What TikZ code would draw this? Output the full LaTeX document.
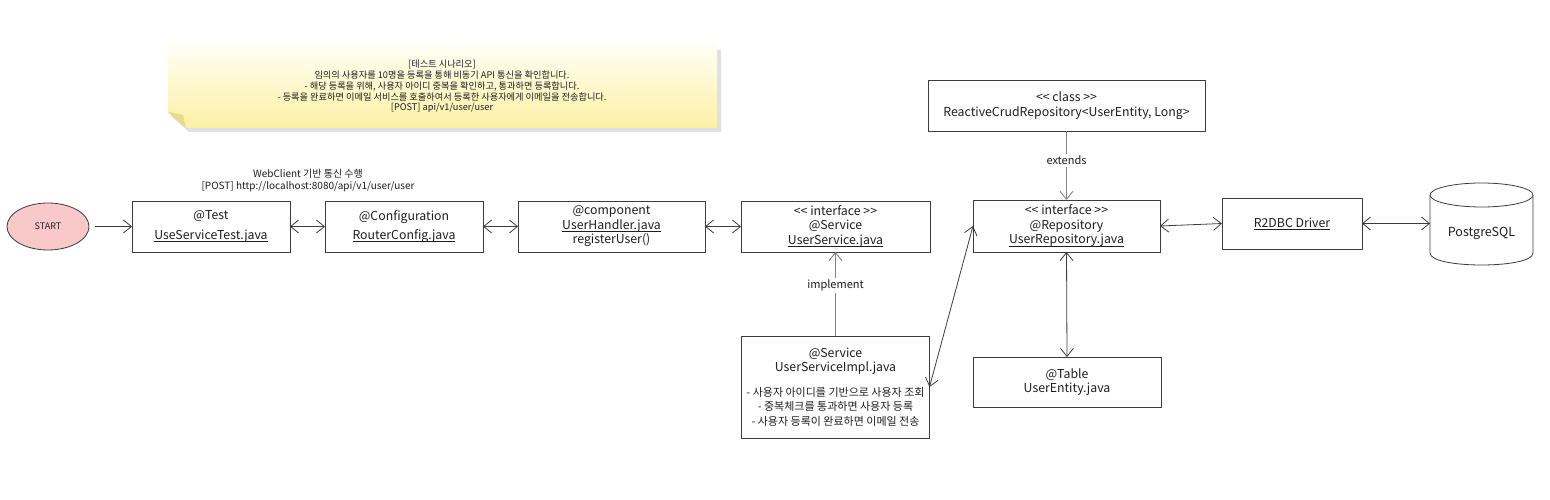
\documentclass[tikz,border=0pt]{standalone}
\usepackage{fontspec}
\setmainfont{Noto Sans CJK KR}
\usetikzlibrary{arrows.meta,shapes.geometric}
\definecolor{ln}{HTML}{3C3C3C}
\definecolor{lg}{HTML}{858585}
\definecolor{txt}{HTML}{1E1E1E}
\definecolor{pinkfill}{HTML}{F9C8C8}
\definecolor{noteA}{HTML}{FFFEF4}
\definecolor{noteB}{HTML}{FBF1A4}
\definecolor{noteF}{HTML}{E8DC8A}
\newcommand\kos{\fontsize{11}{13}\selectfont}
\newcommand\lAng{<\kern0pt<}
\newcommand\rAng{>\kern0pt>}
\newcommand\uln[1]{\setbox0\hbox{#1}\rlap{\rule[-2.2pt]{\wd0}{0.6pt}}\box0}
\begin{document}
\begin{tikzpicture}[x=1pt,y=-1pt,
  >={Straight Barb[length=8pt,width=13pt]},
  box/.style={draw=ln, line width=0.8pt, fill=white, align=center, inner sep=2pt, outer sep=0pt,
              text=txt, font=\fontsize{12.3}{14.5}\selectfont},
  conn/.style={draw=ln, line width=0.8pt},
  gconn/.style={draw=lg, line width=0.9pt},
  lbl/.style={fill=white, inner sep=2pt, text=txt, font=\fontsize{11}{13}\selectfont},
  smalltext/.style={align=center, text=txt, font=\fontsize{10}{12}\selectfont},
  notetext/.style={align=center, text=txt, font=\fontsize{9.2}{10.8}\selectfont}
]
\useasboundingbox (0,0) rectangle (1550,500);
\fill[white] (0,0) rectangle (1550,500);

% note
\fill[black!12] (171,50) -- (721,50) -- (721,132) -- (189,132) -- (171,116) -- cycle;
\shade[top color=noteA, bottom color=noteB] (168,45) -- (717,45) -- (717,128) -- (186,128) -- (168,112) -- cycle;
\fill[noteF] (168,112) -- (186,128) -- (183,115) -- cycle;
\node[notetext] (note) at (442,86.5) {[테스트 시나리오]\\임의의 사용자를 10명을 등록을 통해 비동기 API 통신을 확인합니다.\\- 해당 등록을 위해, 사용자 아이디 중복을 확인하고, 통과하면 등록합니다.\\- 등록을 완료하면 이메일 서비스를 호출하여서 등록한 사용자에게 이메일을 전송합니다.\\{[POST]} api/v1/user/user};

% caption
\node[smalltext] (wc) at (308,181) {WebClient 기반 통신 수행\\{[POST]} http://localhost:8080/api/v1/user/user};

% nodes
\node[ellipse, draw=ln, line width=0.8pt, fill=pinkfill, minimum width=82pt, minimum height=47pt,
      inner sep=0pt, text=txt, font=\fontsize{9}{10}\selectfont] (start) at (48,226.5) {START};
\node[box, minimum width=158pt, minimum height=51pt] (test) at (211,226.5)
  {@Test\\[5pt]\uln{UseServiceTest.java}};
\node[box, minimum width=158pt, minimum height=51pt] (router) at (404,226.5)
  {@Configuration\\[5pt]\uln{RouterConfig.java}};
\node[box, minimum width=187pt, minimum height=51pt] (handler) at (611.5,226.5)
  {@component\\\uln{UserHandler.java}\\registerUser()};
\node[box, minimum width=189pt, minimum height=51pt] (service) at (835.5,226.5)
  {\lAng{} interface \rAng\\@Service\\\uln{UserService.java}};
\node[box, minimum width=188pt, minimum height=102pt] (impl) at (835.5,387)
  {@Service\\UserServiceImpl.java\\[10pt]{\kos - 사용자 아이디를 기반으로 사용자 조회}\\{\kos - 중복체크를 통과하면 사용자 등록}\\{\kos - 사용자 등록이 완료하면 이메일 전송}};
\node[box, minimum width=277pt, minimum height=51pt] (crud) at (1066.5,105.5)
  {\lAng{} class \rAng\\ReactiveCrudRepository<UserEntity, Long>};
\node[box, minimum width=187pt, minimum height=52pt] (repo) at (1066.5,226)
  {\lAng{} interface \rAng\\@Repository\\\uln{UserRepository.java}};
\node[box, minimum width=188pt, minimum height=50pt] (entity) at (1067,382)
  {@Table\\UserEntity.java};
\node[box, minimum width=140pt, minimum height=51pt] (r2dbc) at (1292,223.5)
  {\uln{R2DBC Driver}};

% database cylinder
\fill[white] (1430,195) -- (1430,253) .. controls (1430,269) and (1533,269) .. (1533,253) -- (1533,195) -- cycle;
\draw[ln, line width=0.8pt] (1430,195) -- (1430,253) .. controls (1430,269) and (1533,269) .. (1533,253) -- (1533,195);
\draw[ln, line width=0.8pt, fill=white] (1481.5,195) ellipse [x radius=51.5, y radius=12];
\node[draw=none, minimum width=103pt, minimum height=20pt, inner sep=0pt, outer sep=0pt, text=txt,
      font=\fontsize{12.5}{14}\selectfont] (pg) at (1481.5,233) {PostgreSQL};

% connectors
\draw[conn,->] (start.east) ++(6,0) coordinate (s0) (s0) -- (test.west);
\draw[conn,<->] (test.east) -- (router.west);
\draw[conn,<->] (router.east) -- (handler.west);
\draw[conn,<->] (handler.east) -- (service.west);
\draw[gconn,->] (impl.north) -- node[lbl, pos=0.6] {implement} (service.south);
\draw[gconn,->] (crud.south) -- node[lbl, pos=0.43] {extends} (repo.north);
\draw[conn,<->] (impl.east) -- (repo.west);
\draw[conn,<->] (repo.south) -- (entity.north);
\draw[conn,<->] (repo.east) -- (r2dbc.west);
\draw[conn,<->] (r2dbc.east) -- (r2dbc.east -| pg.west);
\end{tikzpicture}
\end{document}
